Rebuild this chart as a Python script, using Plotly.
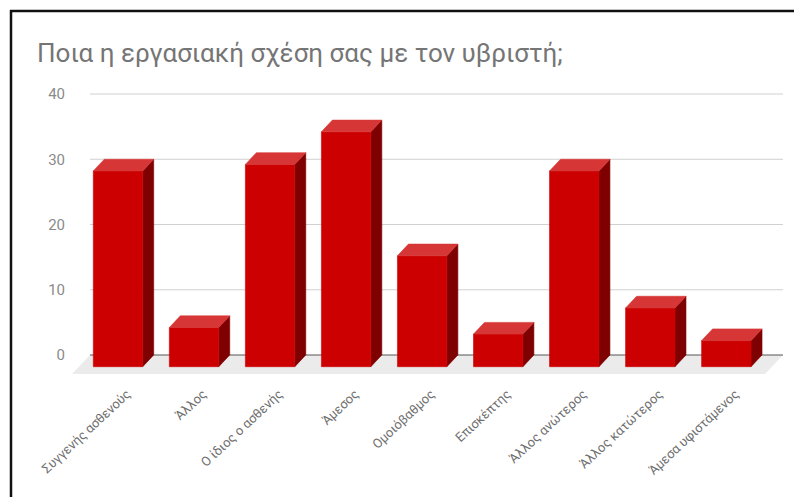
import plotly.graph_objects as go

# Survey answers: working relationship with the abuser
categories = [
    "Συγγενής ασθενούς",
    "Άλλος",
    "Ο ίδιος ο ασθενής",
    "Άμεσος",
    "Ομοιόβαθμος",
    "Επισκέπτης",
    "Άλλος ανώτερος",
    "Άλλος κατώτερος",
    "Άμεσα υφιστάμενος",
]
counts = [30, 6, 31, 36, 17, 5, 30, 9, 4]
y_ticks = [0, 10, 20, 30, 40]
title_text = "Ποια η εργασιακή σχέση σας με τον υβριστή;"

# ---- page geometry (pixels) ----
W, H = 794, 497
L, R, T, B = 66, 4, 80, 117
X0_PX, STEP_PX = 118.0, 76.04      # first category centre / category pitch
Y0_PX, UNIT_PX = 355.0, 6.525      # zero line / pixels per unit

x_range = [(L - X0_PX) / STEP_PX, (W - R - X0_PX) / STEP_PX]
y_range = [-(H - B - Y0_PX) / UNIT_PX, (Y0_PX - T) / UNIT_PX]

# 3-D extrusion of the bars, in axis units
DX = 11.0 / STEP_PX
DY = 11.7 / UNIT_PX
HW = 24.7 / STEP_PX

# back wall / floor extent
GX0 = (90 - X0_PX) / STEP_PX
GX1 = (783 - X0_PX) / STEP_PX
FX = 18.0 / STEP_PX
FY = 19.0 / UNIT_PX

FRONT, TOP, SIDE = "#cc0000", "#d63636", "#7f0000"


def poly_trace(polys, color):
    xs, ys = [], []
    for p in polys:
        for (px, py) in p:
            xs.append(px)
            ys.append(py)
        xs.append(p[0][0])
        ys.append(p[0][1])
        xs.append(None)
        ys.append(None)
    return go.Scatter(
        x=xs, y=ys, mode="lines", fill="toself", fillcolor=color,
        line=dict(color=color, width=0.6), hoverinfo="skip",
        showlegend=False, connectgaps=False,
    )


front, top, side = [], [], []
for i, v in enumerate(counts):
    xl, xr = i - HW, i + HW
    front.append([(xl, -DY), (xr, -DY), (xr, v - DY), (xl, v - DY)])
    top.append([(xl, v - DY), (xr, v - DY), (xr + DX, v), (xl + DX, v)])
    side.append([(xr, -DY), (xr + DX, 0), (xr + DX, v), (xr, v - DY)])

fig = go.Figure()
fig.add_trace(poly_trace(side, SIDE))
fig.add_trace(poly_trace(front, FRONT))
fig.add_trace(poly_trace(top, TOP))


def px_x(p):
    return (p - L) / (W - L - R)


def px_y(p):
    return (H - B - p) / (H - T - B)


shapes = []
# floor
shapes.append(dict(
    type="path", xref="x", yref="y", layer="below", line=dict(width=0),
    fillcolor="#ebebeb",
    path=f"M {GX0},0 L {GX1},0 L {GX1 - FX},{-FY} L {GX0 - FX},{-FY} Z",
))
# gridlines on the back wall
for t in y_ticks:
    if t == 0:
        continue
    shapes.append(dict(type="line", xref="x", yref="y", layer="below",
                       x0=GX0, x1=GX1, y0=t, y1=t,
                       line=dict(color="#d0d0d0", width=1)))
# baseline
shapes.append(dict(type="line", xref="x", yref="y", layer="below",
                   x0=GX0, x1=GX1, y0=0, y1=0,
                   line=dict(color="#555555", width=1)))
# outer frame (top and left edges)
shapes.append(dict(type="line", xref="paper", yref="paper",
                   x0=px_x(10), x1=px_x(800), y0=px_y(11), y1=px_y(11),
                   line=dict(color="#111111", width=2.5)))
shapes.append(dict(type="line", xref="paper", yref="paper",
                   x0=px_x(11), x1=px_x(11), y0=px_y(10), y1=px_y(505),
                   line=dict(color="#111111", width=2.5)))

fig.update_layout(
    width=W, height=H,
    margin=dict(l=L, r=R, t=T, b=B, autoexpand=False),
    paper_bgcolor="white", plot_bgcolor="rgba(0,0,0,0)",
    font=dict(family="Roboto, Arial, sans-serif", color="#757575"),
    title=dict(
        text=title_text, x=37 / W, xanchor="left", xref="container",
        y=1 - 53 / H, yanchor="middle", yref="container",
        font=dict(size=26, color="#757575", family="Roboto, Arial, sans-serif"),
    ),
    xaxis=dict(
        range=x_range, showgrid=False, zeroline=False, showline=False,
        tickmode="array", tickvals=list(range(len(categories))),
        ticktext=categories, tickangle=-43, ticks="",
        tickfont=dict(size=13, color="#6f6f6f"), ticklabelshift=9,
        ticklabelstandoff=3,
        fixedrange=True,
    ),
    yaxis=dict(
        range=y_range, showgrid=False, zeroline=False, showline=False,
        tickmode="array", tickvals=y_ticks, ticks="",
        tickfont=dict(size=15, color="#8a8a8a"),
        fixedrange=True,
    ),
    shapes=shapes,
)

fig.write_html("out.html")
